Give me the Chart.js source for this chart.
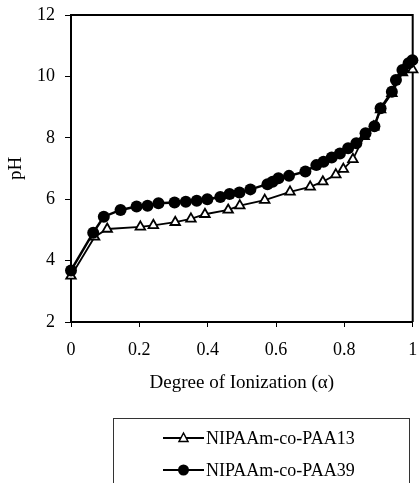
<!DOCTYPE html>
<html>
<head>
<meta charset="utf-8">
<script src="https://cdn.jsdelivr.net/npm/chart.js@4"></script>
<style>
  html, body { margin: 0; padding: 0; background: #fff; }
  #wrap { width: 420px; height: 483px; }
</style>
</head>
<body>
<div id="wrap"><canvas id="phChart" width="420" height="483"></canvas></div>
<script>
// Degree of ionization and pH
const alphaPAA13 = [0, 0.069, 0.106, 0.203, 0.241, 0.305, 0.351, 0.392, 0.46, 0.494,
  0.567, 0.641, 0.70, 0.737, 0.775, 0.797, 0.825, 0.858, 0.886, 0.906, 0.939, 0.97, 1.0];
const phPAA13 = [3.5, 4.77, 5.03, 5.1, 5.15, 5.25, 5.36, 5.51, 5.65, 5.79,
  5.97, 6.24, 6.4, 6.57, 6.8, 6.98, 7.3, 8.05, 8.36, 8.92, 9.45, 10.12, 10.22];

const alphaPAA39 = [0, 0.065, 0.096, 0.145, 0.192, 0.224, 0.256, 0.303, 0.336, 0.368,
  0.399, 0.437, 0.464, 0.493, 0.525, 0.575, 0.59, 0.607, 0.638, 0.686,
  0.718, 0.739, 0.763, 0.787, 0.811, 0.835, 0.862, 0.888, 0.906, 0.939,
  0.951, 0.97, 0.988, 0.999];
const phPAA39 = [3.68, 4.91, 5.43, 5.65, 5.76, 5.79, 5.87, 5.89, 5.92, 5.95,
  6.0, 6.07, 6.17, 6.22, 6.32, 6.49, 6.57, 6.68, 6.76, 6.9,
  7.11, 7.22, 7.36, 7.49, 7.66, 7.82, 8.15, 8.38, 8.96, 9.5,
  9.88, 10.21, 10.43, 10.53];

const seriesNames = ["NIPAAm-co-PAA13", "NIPAAm-co-PAA39"];
const xTicks = [0, 0.2, 0.4, 0.6, 0.8, 1];
const yTicks = [2, 4, 6, 8, 10, 12];

const FONT = "'Liberation Serif', 'Times New Roman', serif";

function toPoints(xs, ys) {
  return xs.map((x, i) => ({ x, y: ys[i] }));
}

// top and right edges of the plot frame
const framePlugin = {
  id: "frame",
  beforeDatasetsDraw(chart) {
    const { ctx, chartArea: a } = chart;
    ctx.save();
    ctx.strokeStyle = "#000";
    ctx.lineWidth = 2;
    ctx.beginPath();
    ctx.moveTo(a.left - 1, a.top);
    ctx.lineTo(a.right, a.top);
    ctx.lineTo(a.right, a.bottom);
    ctx.stroke();
    ctx.restore();
  }
};

// boxed legend below the axis title
const boxLegend = {
  id: "boxLegend",
  afterDraw(chart) {
    const ctx = chart.ctx;
    ctx.save();
    ctx.strokeStyle = "#333";
    ctx.lineWidth = 1;
    ctx.strokeRect(113.5, 418.5, 296, 80);

    chart.data.datasets.forEach((ds, i) => {
      const y = 438 + i * 32;
      ctx.strokeStyle = "#000";
      ctx.lineWidth = 2;
      ctx.beginPath();
      ctx.moveTo(163, y);
      ctx.lineTo(204, y);
      ctx.stroke();
      ctx.fillStyle = ds.pointBackgroundColor;
      if (ds.pointStyle === "triangle") {
        ctx.lineWidth = 1.5;
        ctx.beginPath();
        ctx.moveTo(183.5, y - 5);
        ctx.lineTo(188, y + 3.5);
        ctx.lineTo(179, y + 3.5);
        ctx.closePath();
        ctx.fill();
        ctx.stroke();
      } else {
        ctx.beginPath();
        ctx.arc(183.5, y, 5.5, 0, Math.PI * 2);
        ctx.fill();
      }
      ctx.fillStyle = "#000";
      ctx.font = "18px " + FONT;
      ctx.textBaseline = "middle";
      ctx.textAlign = "left";
      ctx.fillText(ds.label, 206, y + 1);
    });
    ctx.restore();
  }
};

new Chart(document.getElementById("phChart"), {
  type: "line",
  data: {
    datasets: [
      {
        label: seriesNames[0],
        data: toPoints(alphaPAA13, phPAA13),
        borderColor: "#000",
        borderWidth: 1.8,
        pointStyle: "triangle",
        pointRadius: 5.5,
        pointBorderWidth: 1.8,
        pointBackgroundColor: "#fff",
        pointBorderColor: "#000",
        order: 1,
        clip: false
      },
      {
        label: seriesNames[1],
        data: toPoints(alphaPAA39, phPAA39),
        borderColor: "#000",
        borderWidth: 2.5,
        pointStyle: "circle",
        pointRadius: 6,
        pointBorderWidth: 0,
        pointBackgroundColor: "#000",
        pointBorderColor: "#000",
        order: 0,
        clip: false
      }
    ]
  },
  options: {
    responsive: false,
    animation: false,
    layout: { padding: { top: 15, right: 2, left: 0, bottom: 81 } },
    plugins: {
      legend: { display: false },
      tooltip: { enabled: false }
    },
    scales: {
      x: {
        type: "linear",
        min: 0,
        max: 1,
        afterBuildTicks: (s) => { s.ticks = xTicks.map(v => ({ value: v })); },
        afterFit: (s) => { s.height = 80; s.paddingLeft = 0; s.paddingRight = 0; },
        border: { color: "#000", width: 2 },
        grid: { drawOnChartArea: false, color: "#000", tickLength: 5, lineWidth: 1 },
        ticks: {
          color: "#000",
          padding: 12,
          maxRotation: 0,
          font: { family: FONT, size: 18 },
          callback: (v) => String(v)
        },
        title: {
          display: true,
          text: "Degree of Ionization (α)",
          color: "#000",
          font: { family: FONT, size: 19 },
          padding: { top: 0, bottom: 8 }
        }
      },
      y: {
        type: "linear",
        min: 2,
        max: 12,
        afterBuildTicks: (s) => { s.ticks = yTicks.map(v => ({ value: v })); },
        afterFit: (s) => { s.width = 71; s.paddingTop = 0; s.paddingBottom = 0; },
        border: { color: "#000", width: 2 },
        grid: { drawOnChartArea: false, color: "#000", tickLength: 6, lineWidth: 1 },
        ticks: {
          color: "#000",
          padding: 10,
          font: { family: FONT, size: 18 }
        },
        title: {
          display: true,
          text: "pH",
          color: "#000",
          font: { family: FONT, size: 19 },
          padding: { top: 5, bottom: 0 }
        }
      }
    }
  },
  plugins: [framePlugin, boxLegend]
});
</script>
</body>
</html>
